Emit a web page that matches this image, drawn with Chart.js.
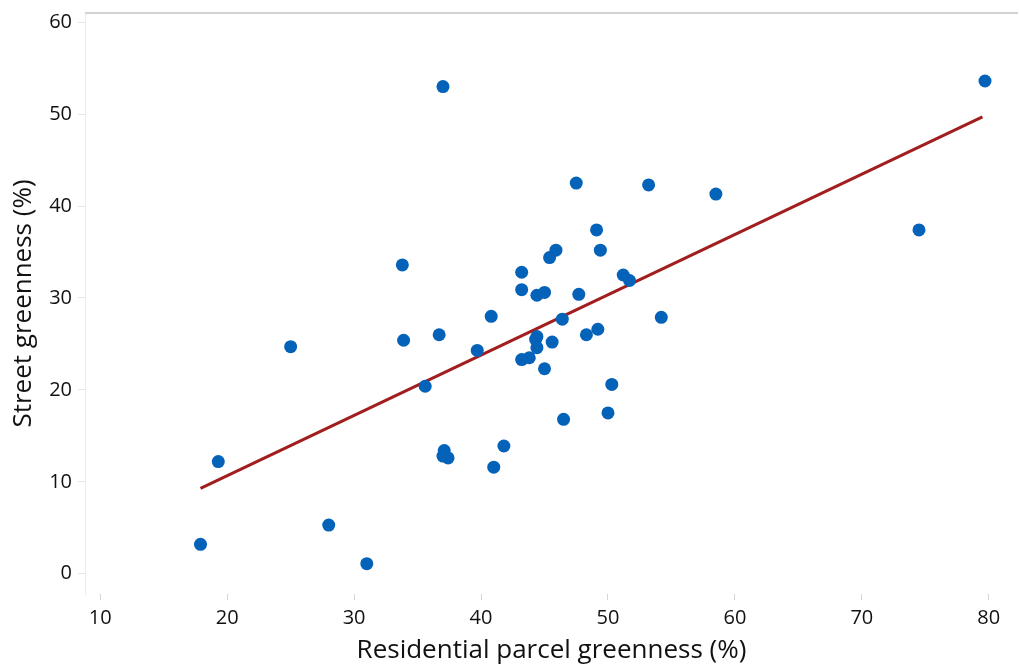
<!DOCTYPE html>
<html>
<head>
    <meta charset="UTF-8">
    <title>Street vs parcel greenness</title>
    <script src="https://cdn.jsdelivr.net/npm/chart.js@4.4.1/dist/chart.umd.min.js"></script>
</head>
<style>
    html, body { margin: 0; padding: 0; background: #fff; }
    #wrap { width: 1019px; height: 666px; }
</style>
<body>
    <div id="wrap"><canvas id="wykres"></canvas></div>

    <script>
        // residential parcel greenness (%) vs street greenness (%)
        var parcelX = [79.7, 37.0, 47.5, 53.2, 58.5, 49.1, 74.5, 45.9, 49.4, 45.4,
                       33.8, 43.2, 51.2, 51.7, 43.2, 45.0, 44.4, 47.7, 40.8, 46.4,
                       54.2, 36.7, 49.2, 48.3, 33.9, 25.0, 44.4, 44.3, 45.6, 39.7,
                       44.4, 43.8, 43.2, 45.0, 35.6, 50.3, 50.0, 46.5, 41.8, 37.1,
                       37.0, 37.4, 19.3, 41.0, 28.0, 17.9, 31.0];
        var streetY = [53.6, 53.0, 42.5, 42.3, 41.3, 37.4, 37.4, 35.2, 35.2, 34.4,
                       33.6, 32.8, 32.5, 31.9, 30.9, 30.6, 30.3, 30.4, 28.0, 27.7,
                       27.9, 26.0, 26.6, 26.0, 25.4, 24.7, 25.8, 25.5, 25.2, 24.3,
                       24.6, 23.5, 23.3, 22.3, 20.4, 20.6, 17.5, 16.8, 13.9, 13.4,
                       12.8, 12.6, 12.2, 11.6, 5.3, 3.2, 1.1];
        // fitted line end points
        var trendX = [17.9, 79.5];
        var trendY = [9.3, 49.7];

        var points = parcelX.map(function (x, i) { return {x: x, y: streetY[i]}; });
        var trend = trendX.map(function (x, i) { return {x: x, y: trendY[i]}; });

        var topLine = {
            id: 'topLine',
            afterDraw: function (chart) {
                var a = chart.chartArea, c = chart.ctx;
                c.save();
                c.strokeStyle = '#d2d2d2';
                c.lineWidth = 2;
                c.beginPath();
                c.moveTo(a.left, a.top);
                c.lineTo(a.right, a.top);
                c.stroke();
                c.restore();
            }
        };

        Chart.defaults.font.family = '"Open Sans", sans-serif';
        Chart.defaults.color = '#111';

        new Chart(document.getElementById('wykres'), {
            type: 'scatter',
            data: {
                datasets: [{
                    data: trend,
                    showLine: true,
                    borderColor: '#a21d1d',
                    borderWidth: 3,
                    pointRadius: 0,
                    order: 2
                }, {
                    data: points,
                    backgroundColor: '#0562b9',
                    borderColor: '#0562b9',
                    pointRadius: 6.5,
                    borderWidth: 0,
                    order: 1
                }]
            },
            options: {
                responsive: true,
                maintainAspectRatio: false,
                animation: false,
                layout: {autoPadding: false, padding: {top: 13, right: 1}},
                plugins: {legend: {display: false}, tooltip: {enabled: false}},
                scales: {
                    x: {
                        min: 8.8, max: 82.3,
                        afterFit: function (s) { s.height = 72; s.paddingLeft = 0; s.paddingRight = 0; },
                        border: {display: false},
                        grid: {drawOnChartArea: false, color: '#d6d6d6', tickLength: 6},
                        ticks: {stepSize: 10, includeBounds: false, padding: 6, font: {size: 20}},
                        title: {display: true, text: 'Residential parcel greenness (%)',
                                font: {size: 26}, padding: {top: 0, bottom: 0}}
                    },
                    y: {
                        min: -2.2, max: 61,
                        afterFit: function (s) { s.width = 85; s.paddingTop = 0; s.paddingBottom = 0; },
                        border: {display: true, color: '#ebebeb'},
                        grid: {drawOnChartArea: false, color: '#e6e6e6', tickLength: 7},
                        ticks: {stepSize: 10, includeBounds: false, padding: 6, font: {size: 20}},
                        title: {display: true, text: 'Street greenness (%)',
                                font: {size: 26}, padding: {top: 8, bottom: 0}}
                    }
                }
            },
            plugins: [topLine]
        });
    </script>
</body>
</html>
